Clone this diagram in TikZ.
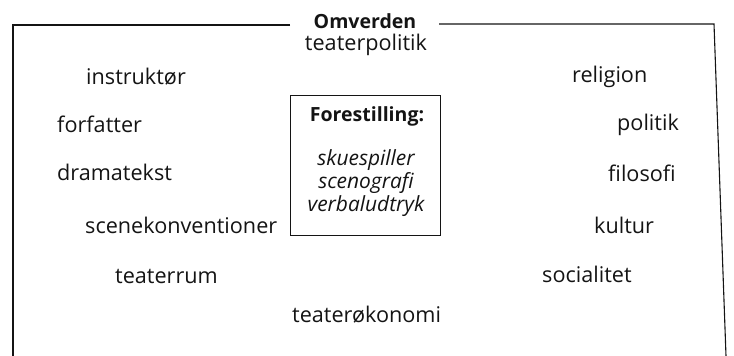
\documentclass[tikz,border=0pt]{standalone}
\usepackage{fontspec}
\setmainfont{Open Sans}
\definecolor{ink}{HTML}{141414}
\begin{document}
\begin{tikzpicture}[x=1bp,y=-1bp,
  every node/.style={inner sep=0pt, text=ink, font=\fontsize{21.7}{26}\selectfont},
  lbl/.style={anchor=west},
  ctr/.style={anchor=center},
  title/.style={anchor=center, font=\fontsize{19.6}{24}\selectfont\bfseries},
  itl/.style={anchor=center, font=\fontsize{21}{25}\selectfont\itshape},
  frame/.style={draw=ink, line width=1.1bp},
  boxstyle/.style={draw=ink, line width=1bp, minimum width=150bp, minimum height=140bp}]
\useasboundingbox (0,0) rectangle (734,355);
% outer frame
\coordinate (tl) at (13,25);
\coordinate (tlg) at (290,25);
\coordinate (trg) at (439,24);
\coordinate (tr) at (714,24);
\coordinate (bl) at (13,356);
\coordinate (br) at (726,356);
\draw[frame] (tlg) -- (tl) -- (bl);
\draw[frame] (trg) -- (tr) -- (br);
% title
\node[title] (omv) at (365,21) {Omverden};
\node[ctr] (tpol) at (366,45) {teaterpolitik};
% left column
\node[lbl] (instr) at (86,77) {instruktør};
\node[lbl] (forf) at (57,124) {forfatter};
\node[lbl] (drama) at (57,172) {dramatekst};
\node[lbl] (scene) at (85,225) {scenekonventioner};
\node[lbl] (trum) at (115,276) {teaterrum};
\node[lbl] (tok) at (292,315) {teaterøkonomi};
% right column
\node[lbl] (rel) at (572,77) {religion};
\node[lbl] (pol) at (617,125) {politik};
\node[lbl] (fil) at (608,173) {filosofi};
\node[lbl] (kul) at (594,225) {kultur};
\node[lbl] (soc) at (542,274) {socialitet};
% central box
\node[boxstyle] (box) at (365,165) {};
\node[title] (fore) at (367,116) {Forestilling:};
\node[itl] (sku) at (366,160) {skuespiller};
\node[itl] (sceno) at (366,183) {scenografi};
\node[itl] (verb) at (366,206) {verbaludtryk};
\end{tikzpicture}
\end{document}
